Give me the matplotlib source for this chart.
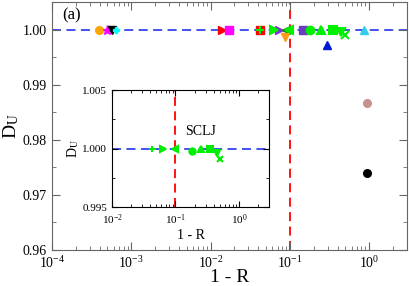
import matplotlib
matplotlib.use('Agg')
import matplotlib.pyplot as plt
import matplotlib.ticker as ticker

plt.rcParams['font.family'] = 'Liberation Serif'
plt.rcParams['mathtext.fontset'] = 'stix'

# series on the main panel: (x, y, marker, colour)
x_orange = [3.9e-4]; y_orange = [1.0]
x_mag_star = [4.9e-4]; y_mag_star = [1.0]
x_black_tri = [5.7e-4]; y_black_tri = [1.0]
x_cyan_plus = [6.4e-4]; y_cyan_plus = [1.0]
x_red_tri = [0.0138]; y_red_tri = [1.0]
x_mag_sq = [0.0169]; y_mag_sq = [1.0]
x_red_sq = [0.0424]; y_red_sq = [1.0]
x_purple_tri = [0.073]; y_purple_tri = [1.0]
x_dkgreen_tri = [0.089]; y_dkgreen_tri = [1.0]
x_orange_dn = [0.086]; y_orange_dn = [0.99868]
x_purple_sq = [0.145]; y_purple_sq = [1.0]
x_blue_up = [0.294]; y_blue_up = [0.99723]
x_cyan_up = [0.85]; y_cyan_up = [1.0]
x_rosy = [0.93]; y_rosy = [0.9867]
x_black_circ = [0.93]; y_black_circ = [0.974]

# SCLJ series (green), one marker per point
sclj_x = [0.0426, 0.0637, 0.098, 0.18, 0.25, 0.35, 0.447, 0.5]
sclj_y = [1.0, 1.0, 1.0, 0.99983, 1.0, 1.0, 0.9996, 0.9991]
sclj_m = ['+', '>', '<', 'o', '^', 's', 'v', 'x']

fig = plt.figure(figsize=(4.09, 2.86), dpi=100)
ax = fig.add_axes([0.127, 0.126, 0.868, 0.867])

ms = 5.5
ax.axhline(1.0, color='#3344ee', ls=(0, (5, 3)), lw=1.3, zorder=1)
ax.axvline(0.1, color='red', ls=(0, (5, 3)), lw=1.3, zorder=1)

ax.plot(x_orange, y_orange, 'o', color='orange', ms=ms)
ax.plot(x_mag_star, y_mag_star, '*', color='magenta', ms=ms+1)
ax.plot(x_black_tri, y_black_tri, 'v', color='black', ms=ms)
ax.plot(x_cyan_plus, y_cyan_plus, 'P', color='cyan', ms=ms-1)
ax.plot(x_red_tri, y_red_tri, '>', color='red', ms=ms)
ax.plot(x_mag_sq, y_mag_sq, 's', color='magenta', ms=ms)
ax.plot(x_red_sq, y_red_sq, 's', color='red', ms=ms)
ax.plot(x_purple_tri, y_purple_tri, '>', color='#8a2be2', ms=ms)
ax.plot(x_dkgreen_tri, y_dkgreen_tri, '<', color='#008b00', ms=ms)
ax.plot(x_orange_dn, y_orange_dn, 'v', color='#ff9a1a', ms=ms)
ax.plot(x_purple_sq, y_purple_sq, 's', color='#6a3dc0', ms=ms)
ax.plot(x_blue_up, y_blue_up, '^', color='#0018d8', ms=ms)
ax.plot(x_cyan_up, y_cyan_up, '^', color='#33ccee', ms=ms)
ax.plot(x_rosy, y_rosy, 'o', color='#c99090', ms=ms)
ax.plot(x_black_circ, y_black_circ, 'o', color='black', ms=ms)
for xx, yy, mk in zip(sclj_x, sclj_y, sclj_m):
    ax.plot([xx], [yy], mk, color='#00ee00', ms=ms, mew=1.5)

ax.set_xscale('log')
ax.set_xlim(1e-4, 3)
ax.set_ylim(0.96, 1.005)
ax.yaxis.set_major_locator(ticker.MultipleLocator(0.01))
ax.yaxis.set_minor_locator(ticker.MultipleLocator(0.005))
ax.yaxis.set_major_formatter(ticker.FormatStrFormatter('%.2f'))
ax.xaxis.set_major_locator(ticker.LogLocator(base=10, numticks=10))
ax.xaxis.set_minor_locator(ticker.LogLocator(base=10, subs=range(2, 10), numticks=20))
ax.xaxis.set_minor_formatter(ticker.NullFormatter())
ax.tick_params(which='both', direction='in', top=True, right=True, labelsize=10, color='#666666')
ax.tick_params(which='major', length=6)
ax.tick_params(which='minor', length=3)
for s in ax.spines.values():
    s.set_color('#666666')
ax.set_xlabel('1 - R', fontsize=14, labelpad=-1)
ax.set_ylabel(r'D$_\mathrm{U}$', fontsize=14, labelpad=1)
ax.text(0.03, 0.93, '(a)', transform=ax.transAxes, fontsize=12)

# inset
axi = fig.add_axes([0.274, 0.276, 0.384, 0.409])
axi.axhline(1.0, color='#3344ee', ls=(0, (5, 3)), lw=1.3, zorder=1)
axi.axvline(0.1, color='red', ls=(0, (5, 3)), lw=1.3, zorder=1)
for xx, yy, mk in zip(sclj_x, sclj_y, sclj_m):
    axi.plot([xx], [yy], mk, color='#00ee00', ms=4.5, mew=1.5)
axi.set_xscale('log')
axi.set_xlim(1e-2, 3)
axi.set_ylim(0.995, 1.005)
axi.yaxis.set_major_locator(ticker.MultipleLocator(0.005))
axi.yaxis.set_minor_locator(ticker.MultipleLocator(0.0025))
axi.yaxis.set_major_formatter(ticker.FormatStrFormatter('%.3f'))
axi.xaxis.set_major_locator(ticker.LogLocator(base=10, numticks=10))
axi.xaxis.set_minor_locator(ticker.LogLocator(base=10, subs=range(2, 10), numticks=20))
axi.xaxis.set_minor_formatter(ticker.NullFormatter())
axi.tick_params(which='both', direction='in', top=True, right=True, labelsize=8)
axi.tick_params(which='major', length=4)
axi.tick_params(which='minor', length=2)
axi.set_xlabel('1 - R', fontsize=10, labelpad=2)
axi.set_ylabel(r'D$_\mathrm{U}$', fontsize=10, labelpad=1)
axi.text(0.14, 1.00145, 'SCLJ', fontsize=10, va='center')

fig.savefig('out.png', dpi=100)
